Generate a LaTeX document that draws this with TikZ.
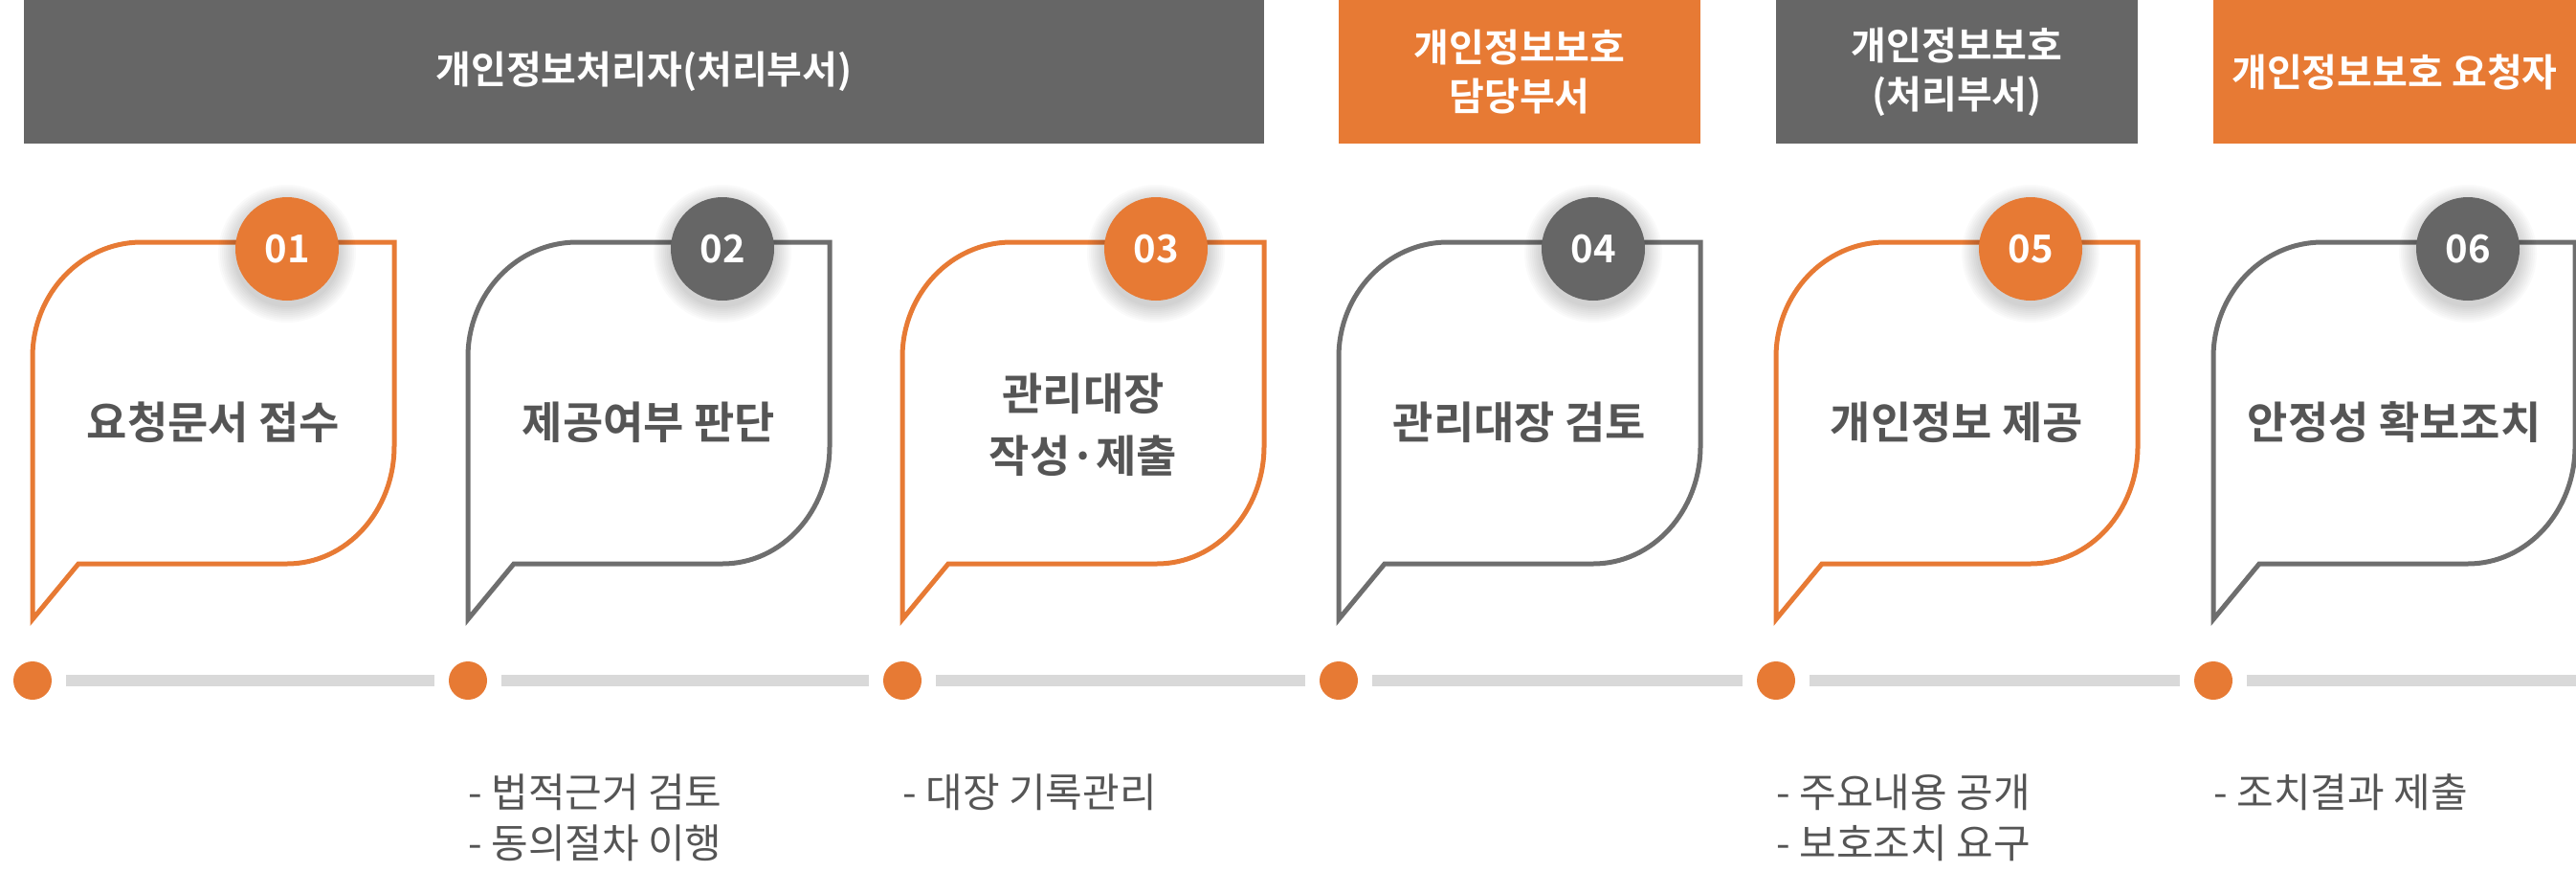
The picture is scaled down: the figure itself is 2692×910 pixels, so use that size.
\documentclass[tikz,border=0pt]{standalone}
\usepackage{fontspec}
\setmainfont{Noto Sans CJK KR}[BoldFont={Noto Sans CJK KR Bold}]
\usepackage{xcolor}
\usepackage{tikz}
\usetikzlibrary{positioning}

\definecolor{accent}{HTML}{E77A34}
\definecolor{barGray}{HTML}{666666}
\definecolor{edgeGray}{HTML}{6E6E6E}
\definecolor{textGray}{HTML}{555555}
\definecolor{trackGray}{HTML}{D9D9D9}

% speech bubble outline, left edge at #1
\newcommand{\speechbubble}[2]{%
  \draw[#2, line width=2.5pt, line join=miter, fill=white]
    (#1,647) -- (#1,373) .. controls (#1,307) and (#1+51,253) .. (#1+114,253)
    -- (#1+378,253) -- (#1+378,466) .. controls (#1+378,534) and (#1+328,589) .. (#1+266,589)
    -- (#1+48,589) -- cycle;}

% soft shadow under a number badge
\newcommand{\badgeshadow}[2]{%
  \foreach \r in {28,29,...,36} {\fill[black, opacity=0.018] (#1,#2+5) circle (\r pt);}}

\begin{document}
\begin{tikzpicture}[
      x=0.5pt, y=-0.5pt,
      head/.style={rectangle, text=white, font=\bfseries\fontsize{20}{25.5}\selectfont,
        align=center, minimum height=75pt, inner sep=0pt},
      badge/.style={circle, minimum size=54pt, inner sep=0pt, text=white,
        font=\bfseries\fontsize{20}{24}\selectfont},
      title/.style={text=textGray, font=\bfseries\fontsize{23}{32.5}\selectfont, align=center},
      dot/.style={circle, fill=accent, minimum size=20pt, inner sep=0pt},
      track/.style={trackGray, line width=6pt, shorten <=7.5pt, shorten >=7.5pt},
      note/.style={text=textGray, font=\fontsize{21}{26}\selectfont, anchor=west, inner sep=0pt}
    ]
      \useasboundingbox (0,0) rectangle (2692,910);

      % Header bars
      \node[head, fill=barGray, minimum width=648pt] (h1) at (673,75) {개인정보처리자(처리부서)};
      \node[head, fill=accent, minimum width=189pt] (h2) at (1588,75) {개인정보보호\\담당부서};
      \node[head, fill=barGray, minimum width=189pt] (h3) at (2045,75) {개인정보보호\\(처리부서)};
      \node[head, fill=accent, minimum width=189.5pt] (h4) at (2502.5,75) {개인정보보호 요청자};

      % Bubbles
      \speechbubble{34}{accent}
      \speechbubble{489}{edgeGray}
      \speechbubble{943}{accent}
      \speechbubble{1399}{edgeGray}
      \speechbubble{1856}{accent}
      \speechbubble{2313}{edgeGray}

      % Number badges
      \badgeshadow{300}{260}
      \badgeshadow{755}{260}
      \badgeshadow{1208}{260}
      \badgeshadow{1665}{260}
      \badgeshadow{2122}{260}
      \badgeshadow{2579}{260}
      \node[badge, fill=accent] (b1) at (300,260) {01};
      \node[badge, fill=barGray] (b2) at (755,260) {02};
      \node[badge, fill=accent] (b3) at (1208,260) {03};
      \node[badge, fill=barGray] (b4) at (1665,260) {04};
      \node[badge, fill=accent] (b5) at (2122,260) {05};
      \node[badge, fill=barGray] (b6) at (2579,260) {06};

      % Bubble texts
      \node[title] (t1) at (223,441) {요청문서 접수};
      \node[title] (t2) at (678,441) {제공여부 판단};
      \node[title] (t3) at (1132,444) {관리대장\\작성·제출};
      \node[title] (t4) at (1588,441) {관리대장 검토};
      \node[title] (t5) at (2045,441) {개인정보 제공};
      \node[title] (t6) at (2502,441) {안정성 확보조치};

      % Timeline
      \node[dot] (d1) at (34,711) {};
      \node[dot] (d2) at (489,711) {};
      \node[dot] (d3) at (943,711) {};
      \node[dot] (d4) at (1399,711) {};
      \node[dot] (d5) at (1856,711) {};
      \node[dot] (d6) at (2313,711) {};
      \coordinate (trackend) at (2692,711);
      \draw[track] (d1) -- (d2);
      \draw[track] (d2) -- (d3);
      \draw[track] (d3) -- (d4);
      \draw[track] (d4) -- (d5);
      \draw[track] (d5) -- (d6);
      \draw[track, shorten >=0pt] (d6) -- (trackend);

      % Notes
      \node[note] (n2a) at (489,828) {- 법적근거 검토};
      \node[note] (n2b) at (489,881) {- 동의절차 이행};
      \node[note] (n3a) at (943,828) {- 대장 기록관리};
      \node[note] (n5a) at (1856,828) {- 주요내용 공개};
      \node[note] (n5b) at (1856,881) {- 보호조치 요구};
      \node[note] (n6a) at (2313,828) {- 조치결과 제출};
    \end{tikzpicture}
\end{document}
